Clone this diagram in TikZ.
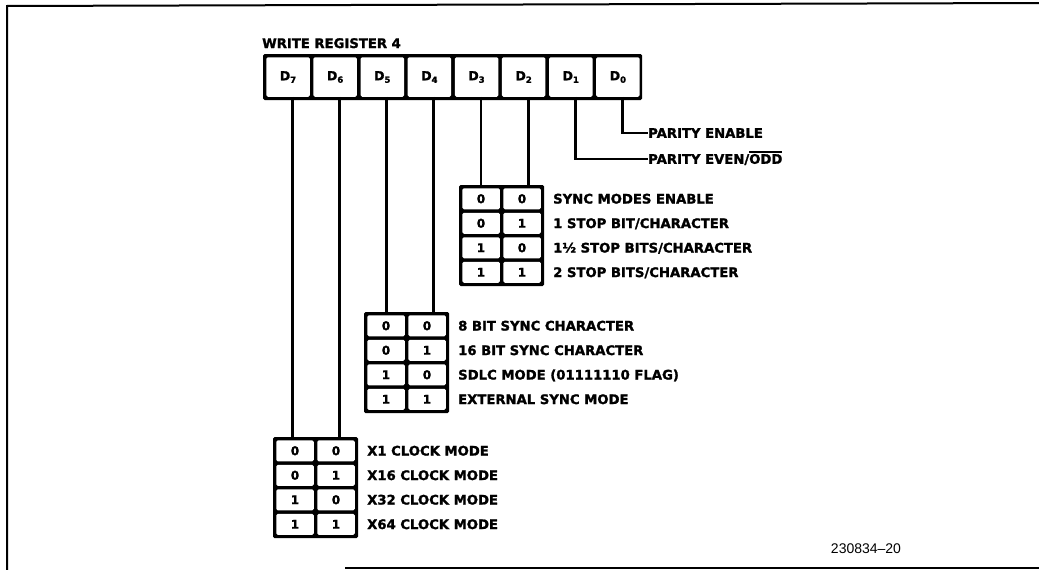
\documentclass[tikz,border=0pt]{standalone}
\usepackage{fontspec}
\setmainfont{DejaVu Sans}
\newfontfamily\heavy{DejaVu Sans Bold}[FakeBold=1.6]
\newfontfamily\fignumfont{Liberation Sans}
\newcommand\dsub[1]{\raisebox{-2.5pt}{\fontsize{8.5}{8.5}\selectfont #1}}
\newcommand\ovl[1]{\vbox{\hrule height 1.5pt\kern1.2pt\hbox{#1}}}
\tikzset{
  outline/.style={line width=2pt},
  blk/.style={fill=black, draw=none, inner sep=0pt, rounded corners=1.5pt},
  regcell/.style={fill=white, draw=none, inner sep=0pt, minimum width=43.5pt, minimum height=39.5pt,
    rounded corners=1.5pt, font=\heavy\fontsize{12.5}{12.5}\selectfont},
  bitcell/.style={fill=white, draw=none, inner sep=0pt, minimum width=37.5pt, minimum height=21pt,
    rounded corners=1.5pt, font=\heavy\fontsize{12}{12}\selectfont},
  lab/.style={anchor=west, inner sep=0pt, text height=9.6pt, text depth=0pt,
    font=\heavy\fontsize{13.2}{13.2}\selectfont},
  conn/.style={line width=2.8pt},
}
\begin{document}
\begin{tikzpicture}[x=1pt,y=-1pt]
\useasboundingbox (0,0) rectangle (1039,570);
% outer frame of the figure
\draw[outline] (7,570) -- (7,6) -- (1039,3);
\draw[outline] (345,568) -- (1039,568);

% title
\node[anchor=base west, inner sep=0pt, font=\heavy\fontsize{13.2}{13.2}\selectfont] (title) at (262,48) {WRITE REGISTER 4};

% register
\node[blk, minimum width=379pt, minimum height=46pt] (reg) at (452.5,77) {};
\foreach \b [count=\i from 0] in {7,6,5,4,3,2,1,0} {
  \node[regcell] (r\b) at ({288+47.125*\i},77) {D\dsub{\b}};
  \coordinate (p\b) at ([xshift=4.5pt]r\b.south);
}

% parity labels
\node[lab] (pl0) at (648,133) {PARITY ENABLE};
\node[lab] (pl1) at (648,159) {PARITY EVEN/\ovl{ODD}};
\draw[conn] (p0) |- (pl0.west);
\draw[conn] (p1) |- (pl1.west);

% sync / stop bits table (D3 D2)
\node[blk, minimum width=85pt, minimum height=101pt] (stab) at (501.5,235.5) {};
\foreach \r/\a/\c in {0/0/0,1/0/1,2/1/0,3/1/1} {
  \node[bitcell] (sa\r) at (481,{198.75+24.5*\r}) {\a};
  \node[bitcell] (sb\r) at (522,{198.75+24.5*\r}) {\c};
}
\node[lab] (sl0) at (553,198.75) {SYNC MODES ENABLE};
\node[lab] (sl1) at (553,223.25) {1 STOP BIT/CHARACTER};
\node[lab] (sl2) at (553,247.75) {1½ STOP BITS/CHARACTER};
\node[lab] (sl3) at (553,272.25) {2 STOP BITS/CHARACTER};
\draw[conn] (p3) -- (p3 |- stab.north);
\draw[conn] (p2) -- (p2 |- stab.north);

% sync character table (D5 D4)
\node[blk, minimum width=85pt, minimum height=101pt] (btab) at (406.5,362.5) {};
\foreach \r/\a/\c in {0/0/0,1/0/1,2/1/0,3/1/1} {
  \node[bitcell] (ba\r) at (386,{325.75+24.5*\r}) {\a};
  \node[bitcell] (bb\r) at (427,{325.75+24.5*\r}) {\c};
}
\node[lab] (bl0) at (458,325.75) {8 BIT SYNC CHARACTER};
\node[lab] (bl1) at (458,350.25) {16 BIT SYNC CHARACTER};
\node[lab] (bl2) at (458,374.75) {SDLC MODE (01111110 FLAG)};
\node[lab] (bl3) at (458,399.25) {EXTERNAL SYNC MODE};
\draw[conn] (p5) -- (p5 |- btab.north);
\draw[conn] (p4) -- (p4 |- btab.north);

% clock table (D7 D6)
\node[blk, minimum width=85pt, minimum height=101pt] (ctab) at (315.5,487.5) {};
\foreach \r/\a/\c in {0/0/0,1/0/1,2/1/0,3/1/1} {
  \node[bitcell] (ca\r) at (295,{450.75+24.5*\r}) {\a};
  \node[bitcell] (cb\r) at (336,{450.75+24.5*\r}) {\c};
}
\node[lab] (cl0) at (367,450.75) {X1 CLOCK MODE};
\node[lab] (cl1) at (367,475.25) {X16 CLOCK MODE};
\node[lab] (cl2) at (367,499.75) {X32 CLOCK MODE};
\node[lab] (cl3) at (367,524.25) {X64 CLOCK MODE};
\draw[conn] (p7) -- (p7 |- ctab.north);
\draw[conn] (p6) -- (p6 |- ctab.north);

% figure number
\node[inner sep=0pt, font=\fignumfont\fontsize{14}{14}\selectfont] (fignum) at (866,549) {230834–20};
\end{tikzpicture}
\end{document}
